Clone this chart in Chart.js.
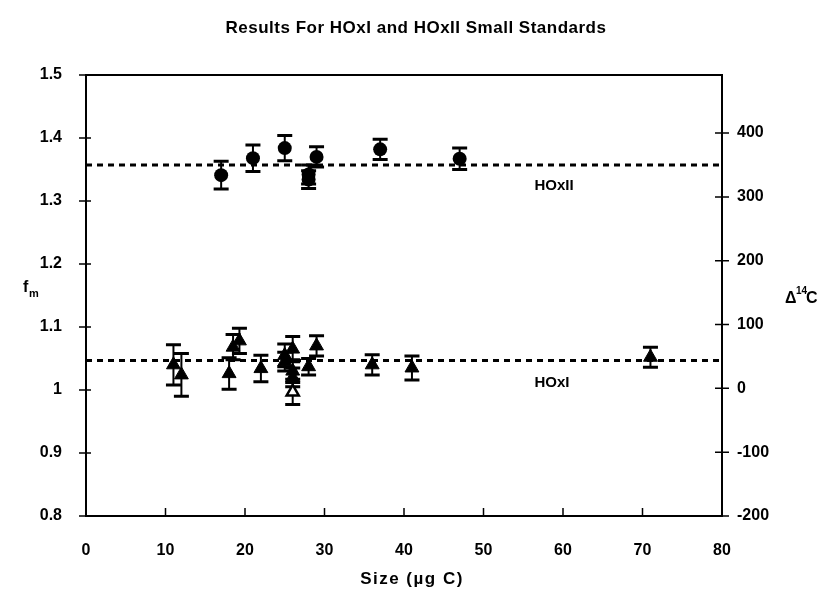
<!DOCTYPE html>
<html>
<head>
<meta charset="utf-8">
<script src="https://cdn.jsdelivr.net/npm/chart.js@4"></script>
<style>
  body { margin: 0; background: #fff; }
</style>
</head>
<body>
<canvas id="chart" width="830" height="592"></canvas>
<script>
// HOxII (circles)
const sizeII = [17, 21, 25, 28, 28, 29, 37, 47];
const fmII = [1.341, 1.368, 1.384, 1.342, 1.334, 1.370, 1.382, 1.367];
const errII = [0.022, 0.021, 0.020, 0.015, 0.014, 0.016, 0.016, 0.017];

// HOxI (filled triangles)
const sizeI = [11, 12, 18, 18.5, 19.3, 22, 25, 25, 26, 26, 26, 28, 29, 36, 41, 71];
const fmI = [1.040, 1.024, 1.026, 1.068, 1.078, 1.034, 1.055, 1.045, 1.065, 1.030, 1.020, 1.037, 1.070, 1.040, 1.035, 1.052];
const errI = [0.032, 0.034, 0.025, 0.020, 0.020, 0.021, 0.018, 0.015, 0.020, 0.018, 0.015, 0.013, 0.016, 0.016, 0.019, 0.016];

// HOxI (open triangle)
const sizeOpen = [26];
const fmOpen = [0.997];
const errOpen = [0.020];

// reference values (dashed lines)
const refII = 1.357;
const refI = 1.047;

const xTicks = [0, 10, 20, 30, 40, 50, 60, 70, 80];
const fmTicks = [0.8, 0.9, 1.0, 1.1, 1.2, 1.3, 1.4, 1.5];
const deltaTicks = [-200, -100, 0, 100, 200, 300, 400];

const FONT = '"Liberation Sans", Arial, Helvetica, sans-serif';

const toPoints = (xs, ys) => xs.map((x, i) => ({ x: x, y: ys[i] }));

// error bars, tick marks, frame and text
const decorPlugin = {
    id: 'decor',
    beforeDatasetsDraw(chart) {
        const ctx = chart.ctx;
        const xs = chart.scales.x, ys = chart.scales.y;
        const groups = [[sizeII, fmII, errII], [sizeI, fmI, errI], [sizeOpen, fmOpen, errOpen]];
        ctx.save();
        ctx.strokeStyle = '#000';
        groups.forEach(g => {
            g[0].forEach((s, i) => {
                const px = xs.getPixelForValue(s);
                const top = ys.getPixelForValue(g[1][i] + g[2][i]);
                const bot = ys.getPixelForValue(g[1][i] - g[2][i]);
                ctx.lineWidth = 2;
                ctx.beginPath();
                ctx.moveTo(px, top);
                ctx.lineTo(px, bot);
                ctx.stroke();
                ctx.lineWidth = 3;
                ctx.beginPath();
                ctx.moveTo(px - 7.5, top);
                ctx.lineTo(px + 7.5, top);
                ctx.moveTo(px - 7.5, bot);
                ctx.lineTo(px + 7.5, bot);
                ctx.stroke();
            });
        });
        ctx.restore();
    },
    afterDraw(chart) {
        const ctx = chart.ctx;
        const a = chart.chartArea;
        const xs = chart.scales.x, ys = chart.scales.y, yr = chart.scales.y2;
        ctx.save();
        ctx.strokeStyle = '#000';
        ctx.lineWidth = 2;
        ctx.strokeRect(a.left, a.top, a.right - a.left, a.bottom - a.top);

        ctx.lineWidth = 1.5;
        ctx.beginPath();
        ys.ticks.forEach(t => {
            const py = ys.getPixelForValue(t.value);
            ctx.moveTo(a.left - 7, py);
            ctx.lineTo(a.left + 5, py);
        });
        yr.ticks.forEach(t => {
            const py = yr.getPixelForValue(t.value);
            ctx.moveTo(a.right - 7, py);
            ctx.lineTo(a.right + 7, py);
        });
        xs.ticks.forEach(t => {
            const px = xs.getPixelForValue(t.value);
            ctx.moveTo(px, a.bottom);
            ctx.lineTo(px, a.bottom - 8);
        });
        ctx.stroke();

        ctx.fillStyle = '#000';
        ctx.textBaseline = 'alphabetic';
        ctx.textAlign = 'center';
        ctx.font = 'bold 17px ' + FONT;
        ctx.letterSpacing = '0.5px';
        ctx.fillText('Results For HOxI and HOxII Small Standards', 416, 33);
        ctx.letterSpacing = '1.5px';
        ctx.fillText('Size (\u00b5g C)', 412, 584);
        ctx.letterSpacing = '0px';

        ctx.textAlign = 'left';
        ctx.font = 'bold 15px ' + FONT;
        ctx.fillText('HOxII', xs.getPixelForValue(56.4), ys.getPixelForValue(1.318));
        ctx.fillText('HOxI', xs.getPixelForValue(56.4), ys.getPixelForValue(1.004));

        ctx.font = 'bold 16px ' + FONT;
        ctx.fillText('f', 23, 292);
        ctx.font = 'bold 11px ' + FONT;
        ctx.fillText('m', 29, 297);

        ctx.font = 'bold 16px ' + FONT;
        ctx.fillText('\u0394', 785, 303);
        ctx.font = 'bold 10px ' + FONT;
        ctx.fillText('14', 796, 294);
        ctx.font = 'bold 16px ' + FONT;
        ctx.fillText('C', 806, 303);
        ctx.restore();
    }
};

const tickFont = { family: FONT, size: 16, weight: 'bold' };

new Chart(document.getElementById('chart'), {
    type: 'scatter',
    data: {
        datasets: [
            {
                type: 'line',
                data: [{ x: 0, y: refII }, { x: 80, y: refII }],
                borderColor: '#000',
                borderWidth: 3,
                borderDash: [6, 5],
                pointRadius: 0,
                order: 5
            },
            {
                type: 'line',
                data: [{ x: 0, y: refI }, { x: 80, y: refI }],
                borderColor: '#000',
                borderWidth: 3,
                borderDash: [6, 5],
                pointRadius: 0,
                order: 5
            },
            {
                label: 'HOxII',
                data: toPoints(sizeII, fmII),
                pointStyle: 'circle',
                pointRadius: 7,
                backgroundColor: '#000',
                borderColor: '#000',
                borderWidth: 0,
                order: 1
            },
            {
                label: 'HOxI',
                data: toPoints(sizeI, fmI),
                pointStyle: 'triangle',
                pointRadius: 8,
                backgroundColor: '#000',
                borderColor: '#000',
                borderWidth: 1,
                order: 1
            },
            {
                label: 'HOxI open',
                data: toPoints(sizeOpen, fmOpen),
                pointStyle: 'triangle',
                pointRadius: 7,
                backgroundColor: '#fff',
                borderColor: '#000',
                borderWidth: 2.5,
                order: 0
            }
        ]
    },
    options: {
        responsive: false,
        animation: false,
        layout: { padding: { top: 75, left: 0, right: 0, bottom: 0 } },
        plugins: {
            legend: { display: false },
            tooltip: { enabled: false }
        },
        scales: {
            x: {
                type: 'linear',
                min: 0,
                max: 80,
                afterBuildTicks: s => { s.ticks = xTicks.map(v => ({ value: v })); },
                afterFit: s => { s.height = 76; },
                grid: { display: false },
                border: { display: false },
                ticks: { color: '#000', font: tickFont, padding: 17, maxRotation: 0 }
            },
            y: {
                position: 'left',
                min: 0.8,
                max: 1.5,
                afterBuildTicks: s => { s.ticks = fmTicks.map(v => ({ value: v })); },
                afterFit: s => { s.width = 86; },
                grid: { display: false },
                border: { display: false },
                ticks: {
                    color: '#000',
                    font: tickFont,
                    padding: 16,
                    callback: v => String(Number(v.toFixed(1)))
                }
            },
            y2: {
                position: 'right',
                min: -200,
                max: 491,
                afterBuildTicks: s => { s.ticks = deltaTicks.map(v => ({ value: v })); },
                afterFit: s => { s.width = 108; },
                grid: { display: false },
                border: { display: false },
                ticks: { color: '#000', font: tickFont, padding: 7 }
            }
        }
    },
    plugins: [decorPlugin]
});
</script>
</body>
</html>
